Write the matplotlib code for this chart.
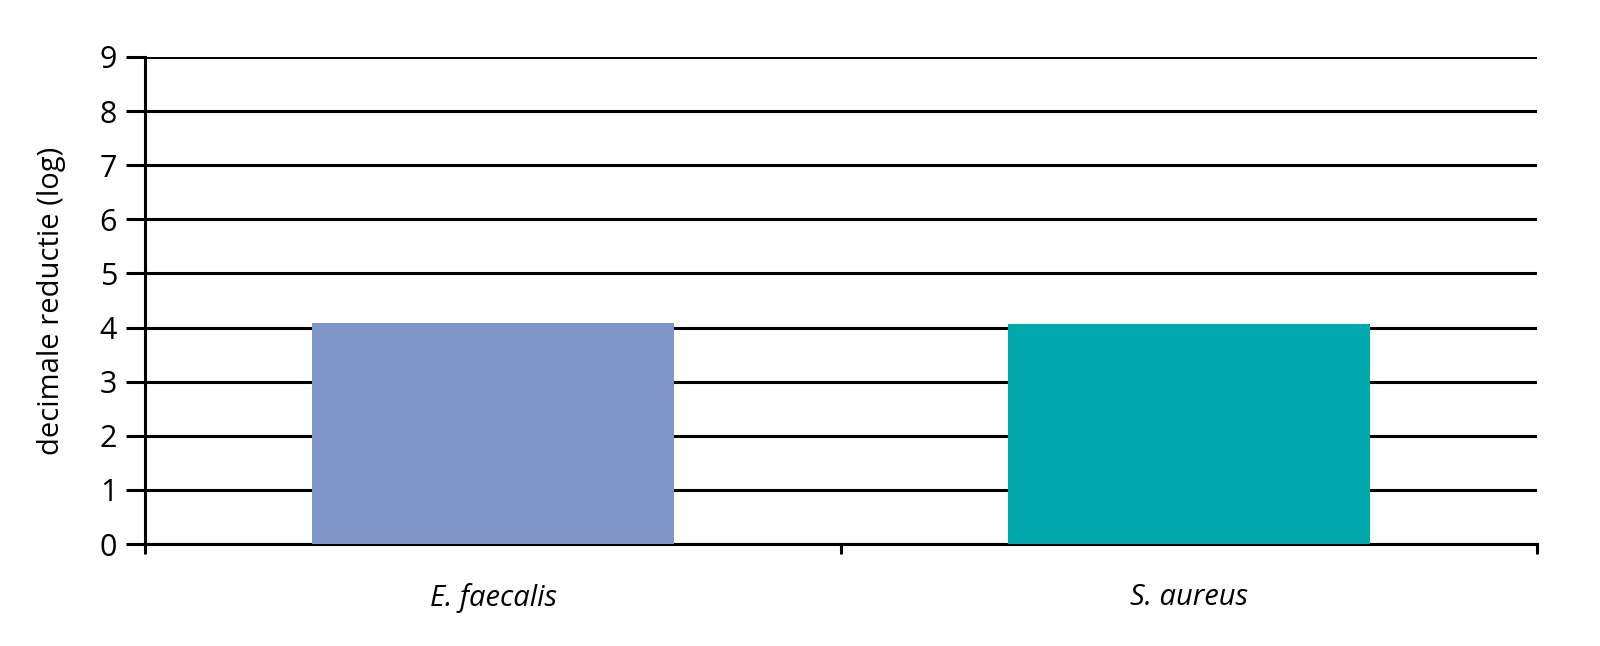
import matplotlib
matplotlib.use("Agg")
import matplotlib.pyplot as plt
from matplotlib.ticker import FixedLocator

categories = ["E. faecalis", "S. aureus"]
values = [4.09, 4.06]
colors = ["#8096cb", "#00a9ad"]
yticks = list(range(0, 10))

plt.rcParams['font.family'] = ['Open Sans', 'DejaVu Sans']

fig = plt.figure(figsize=(16, 6.46), dpi=100)
ax = fig.add_axes([145/1600, 1-544/646, (1537-145)/1600, (544-57)/646])

x = list(range(len(categories)))
ax.bar(x, values, width=0.52, color=colors, zorder=3)

ax.set_xlim(-0.5, len(categories)-0.5)
ax.set_ylim(0, 9)
ax.set_yticks(yticks)
ax.set_yticklabels([str(t) for t in yticks], fontsize=22)
ax.set_xticks(x)
ax.set_xticklabels(categories, fontsize=21, style='italic')
ax.xaxis.set_minor_locator(FixedLocator([-0.5, 0.5, 1.5]))
ax.tick_params(axis='x', which='major', length=0, pad=28)
ax.tick_params(axis='x', which='minor', length=7, width=2.2, direction='out', color='black')
ax.tick_params(axis='y', length=14, width=2.2, color='black', pad=6)

ax.yaxis.grid(True, color='black', linewidth=2.2, zorder=1)
ax.set_axisbelow(True)

for s in ['top', 'right']:
    ax.spines[s].set_visible(False)
ax.spines['left'].set_linewidth(2.2)
ax.spines['bottom'].set_linewidth(2.2)

ax.set_ylabel("decimale reductie (log)", fontsize=21, labelpad=24)

fig.savefig("out.png", dpi=100)
